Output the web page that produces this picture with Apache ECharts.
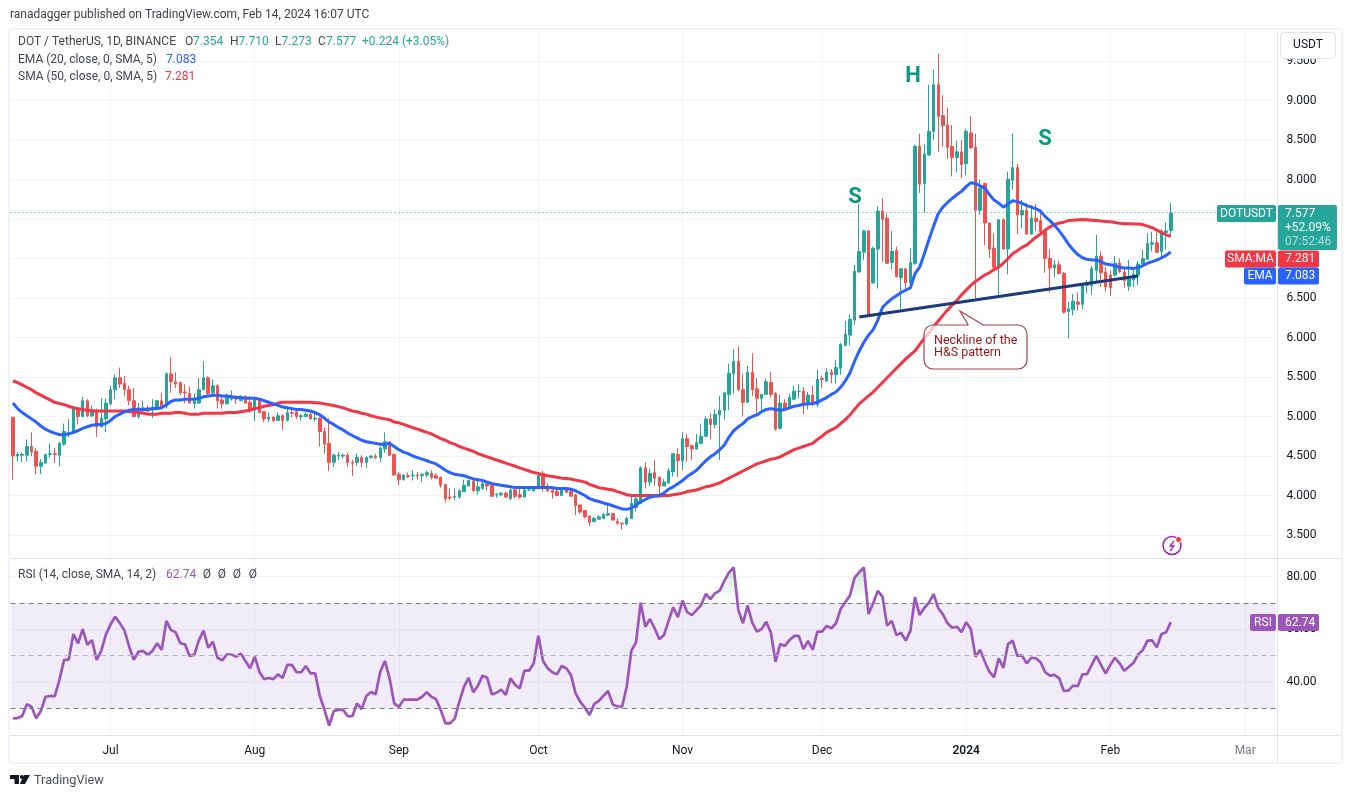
<!DOCTYPE html>
<html><head><meta charset="utf-8">
<style>html,body{margin:0;padding:0;background:#fff}#c{width:1351px;height:798px}</style>
<script src="https://cdn.jsdelivr.net/npm/echarts@6/dist/echarts.min.js"></script>
</head><body><div id="c"></div>
<script>
var FONT = 'Roboto, sans-serif';
var firstDay = Date.UTC(2023,5,10), totalDays = 272;
var monthTicks = {'2023-07-01':'Jul','2023-08-01':'Aug','2023-09-01':'Sep','2023-10-01':'Oct','2023-11-01':'Nov','2023-12-01':'Dec','2024-01-01':'2024','2024-02-01':'Feb','2024-03-01':'Mar'};
var priceTicks = [3.5,4,4.5,5,5.5,6,6.5,7,7.5,8,8.5,9,9.5];
var rsiTicks = [40,60,80];
// open, close, low, high
var candles = [
[4.99,4.50,4.20,4.99],[4.50,4.52,4.43,4.55],[4.51,4.52,4.42,4.55],[4.51,4.62,4.43,4.71],[4.62,4.55,4.50,4.80],[4.56,4.37,4.27,4.60],[4.37,4.42,4.27,4.46],[4.41,4.52,4.40,4.53],[4.52,4.53,4.48,4.66],[4.53,4.52,4.41,4.60],
[4.51,4.66,4.37,4.68],[4.65,4.81,4.63,4.91],[4.79,4.80,4.74,4.97],[4.81,5.10,4.78,5.14],[5.10,5.00,4.90,5.10],[5.00,5.20,4.99,5.25],[5.20,5.01,4.99,5.22],[5.01,5.09,4.99,5.14],[5.08,4.87,4.74,5.10],[4.87,4.98,4.86,5.23],
[4.97,5.17,4.80,5.23],[5.16,5.34,5.14,5.39],[5.34,5.49,5.22,5.53],[5.49,5.41,5.36,5.62],[5.42,5.34,5.26,5.51],[5.34,5.20,5.14,5.39],[5.20,5.00,4.99,5.36],[5.00,5.11,4.97,5.17],[5.07,5.11,5.06,5.20],[5.11,5.07,5.05,5.14],
[5.08,5.12,4.98,5.22],[5.09,5.20,5.09,5.21],[5.20,5.12,5.10,5.30],[5.13,5.54,5.10,5.56],[5.54,5.44,5.30,5.75],[5.44,5.41,5.36,5.56],[5.43,5.30,5.27,5.44],[5.31,5.30,5.17,5.41],[5.29,5.17,5.17,5.38],[5.16,5.20,5.10,5.29],
[5.17,5.34,5.16,5.49],[5.34,5.49,5.33,5.70],[5.49,5.29,5.26,5.51],[5.30,5.39,5.27,5.47],[5.39,5.20,5.10,5.41],[5.21,5.16,5.10,5.26],[5.16,5.25,5.15,5.29],[5.22,5.26,5.20,5.33],[5.25,5.22,5.16,5.27],[5.20,5.24,5.20,5.27],
[5.25,5.17,5.17,5.27],[5.18,5.08,5.05,5.26],[5.08,5.21,4.94,5.24],[5.21,5.05,5.04,5.22],[5.06,4.97,4.93,5.07],[4.97,4.99,4.93,5.05],[4.99,4.95,4.93,5.00],[4.95,5.01,4.95,5.05],[5.01,4.95,4.83,5.03],[4.95,5.05,4.94,5.10],
[5.05,5.04,4.99,5.12],[5.06,5.00,4.97,5.07],[5.00,5.01,4.95,5.03],[5.00,5.03,4.99,5.05],[5.03,4.97,4.96,5.05],[4.97,4.98,4.94,5.05],[4.98,4.81,4.62,4.99],[4.81,4.65,4.53,4.86],[4.66,4.42,4.31,4.98],[4.42,4.51,4.36,4.53],
[4.50,4.51,4.45,4.55],[4.50,4.51,4.47,4.53],[4.51,4.42,4.36,4.54],[4.42,4.41,4.25,4.45],[4.42,4.48,4.38,4.53],[4.48,4.42,4.36,4.51],[4.42,4.48,4.35,4.49],[4.48,4.50,4.47,4.51],[4.50,4.48,4.46,4.53],[4.48,4.60,4.42,4.62],
[4.59,4.68,4.54,4.80],[4.68,4.51,4.50,4.68],[4.52,4.26,4.25,4.53],[4.27,4.20,4.13,4.30],[4.20,4.26,4.19,4.27],[4.25,4.24,4.22,4.29],[4.25,4.26,4.19,4.32],[4.26,4.25,4.20,4.30],[4.25,4.27,4.17,4.28],[4.26,4.29,4.23,4.31],
[4.28,4.23,4.20,4.32],[4.25,4.22,4.22,4.28],[4.23,4.13,4.10,4.24],[4.14,3.96,3.91,4.14],[3.98,3.97,3.94,4.09],[3.98,3.99,3.94,4.09],[3.98,4.06,3.96,4.08],[4.05,4.13,4.05,4.20],[4.12,4.19,4.11,4.20],[4.18,4.06,4.05,4.20],
[4.06,4.11,4.01,4.21],[4.09,4.15,4.07,4.19],[4.15,4.12,4.06,4.16],[4.13,3.99,3.99,4.14],[4.01,4.02,3.97,4.03],[4.01,4.03,3.99,4.04],[4.03,3.98,3.97,4.05],[3.96,4.07,3.94,4.09],[4.07,3.99,3.96,4.09],[4.01,3.98,3.96,4.08],
[3.98,4.07,3.98,4.09],[4.07,4.07,4.06,4.11],[4.06,4.10,4.05,4.12],[4.09,4.26,4.08,4.28],[4.28,4.11,4.05,4.31],[4.12,4.06,4.05,4.15],[4.07,4.04,3.96,4.08],[4.05,4.00,3.99,4.09],[4.00,4.09,3.99,4.10],[4.09,4.04,4.03,4.11],
[4.05,3.99,3.99,4.09],[4.01,3.87,3.75,4.02],[3.88,3.79,3.77,3.89],[3.81,3.73,3.71,3.82],[3.74,3.66,3.61,3.75],[3.67,3.71,3.66,3.73],[3.70,3.73,3.69,3.75],[3.71,3.76,3.70,3.78],[3.75,3.77,3.74,3.90],[3.77,3.69,3.68,3.78],
[3.67,3.65,3.63,3.71],[3.65,3.64,3.57,3.65],[3.64,3.71,3.62,3.73],[3.71,3.90,3.70,3.98],[3.85,3.96,3.80,3.98],[3.90,4.35,3.89,4.37],[4.35,4.17,4.09,4.42],[4.17,4.28,4.12,4.34],[4.29,4.22,4.12,4.45],[4.23,4.12,4.00,4.24],
[4.12,4.17,4.12,4.21],[4.16,4.31,4.15,4.35],[4.30,4.53,4.24,4.53],[4.52,4.44,4.23,4.60],[4.44,4.72,4.32,4.80],[4.72,4.62,4.43,4.78],[4.63,4.59,4.45,4.65],[4.59,4.67,4.58,4.78],[4.66,4.75,4.65,4.91],[4.75,4.97,4.74,5.00],
[4.97,4.90,4.71,5.04],[4.90,5.03,4.85,5.09],[5.02,5.08,4.45,5.26],[5.08,5.30,4.96,5.31],[5.28,5.55,5.08,5.67],[5.54,5.70,5.29,5.85],[5.70,5.34,5.32,5.89],[5.34,5.18,5.00,5.53],[5.18,5.56,5.18,5.64],[5.56,5.34,5.26,5.80],
[5.35,5.23,5.04,5.49],[5.23,5.28,5.06,5.29],[5.28,5.44,5.27,5.48],[5.43,5.28,5.24,5.56],[5.29,4.84,4.82,5.31],[4.85,5.17,4.84,5.28],[5.17,5.10,5.08,5.22],[5.12,5.24,5.11,5.29],[5.22,5.32,5.21,5.39],[5.32,5.32,5.23,5.41],
[5.32,5.15,5.03,5.37],[5.15,5.27,5.09,5.31],[5.27,5.15,5.13,5.39],[5.15,5.47,5.12,5.59],[5.48,5.47,5.36,5.52],[5.45,5.56,5.44,5.61],[5.56,5.53,5.42,5.60],[5.53,5.62,5.42,5.72],[5.61,5.91,5.53,5.93],[5.90,6.04,5.89,6.21],
[6.03,6.23,5.90,6.29],[6.22,6.84,6.16,6.92],[6.83,7.09,6.82,7.69],[7.08,7.35,6.98,7.36],[7.35,6.29,6.28,7.36],[6.69,7.13,6.68,7.15],[7.12,7.60,6.62,7.66],[7.60,7.50,6.96,7.76],[7.51,6.94,6.93,7.57],[6.95,7.09,6.86,7.35],
[7.10,6.77,6.76,7.15],[6.76,6.87,6.36,6.88],[6.87,6.69,6.62,6.88],[6.69,6.95,6.61,7.13],[6.94,8.42,6.92,8.44],[8.42,7.94,7.83,8.58],[7.95,8.32,7.58,8.45],[8.31,8.61,8.30,9.20],[8.61,9.20,8.50,9.39],[9.20,8.80,8.35,9.59],
[8.81,8.68,8.41,9.07],[8.69,8.41,8.26,8.91],[8.42,8.28,8.04,8.69],[8.28,8.35,8.09,8.49],[8.35,8.19,8.02,8.50],[8.20,8.61,8.06,8.64],[8.59,8.40,8.39,8.80],[8.41,7.61,6.50,8.58],[7.61,7.89,7.55,8.00],[7.95,7.45,7.17,7.96],
[7.45,7.12,7.01,7.45],[7.13,6.89,6.87,7.32],[6.89,7.49,6.52,7.50],[7.49,7.12,7.11,7.51],[7.12,8.00,6.80,8.10],[7.99,8.15,7.87,8.58],[8.15,7.55,7.31,8.20],[7.55,7.61,7.38,7.74],[7.61,7.31,7.30,7.70],[7.31,7.51,7.30,7.68],
[7.51,7.47,7.35,7.69],[7.48,7.34,7.31,7.61],[7.35,7.00,6.82,7.36],[7.00,6.88,6.57,7.12],[6.88,6.92,6.76,6.98],[6.92,6.81,6.80,6.97],[6.81,6.32,6.30,6.83],[6.33,6.36,5.99,6.45],[6.35,6.46,6.28,6.55],[6.45,6.42,6.34,6.57],
[6.42,6.67,6.36,6.69],[6.66,6.67,6.56,6.73],[6.66,6.87,6.54,6.91],[6.85,7.03,6.69,7.30],[7.03,6.82,6.64,7.09],[6.83,6.64,6.58,6.89],[6.79,6.63,6.53,6.85],[6.79,6.94,6.77,7.03],[6.94,6.83,6.82,7.00],[6.83,6.72,6.63,6.89],
[6.65,6.74,6.59,6.98],[6.73,6.80,6.64,6.87],[6.79,6.93,6.66,6.97],[6.93,7.00,6.92,7.11],[6.99,7.19,6.99,7.32],[7.18,7.20,7.09,7.34],[7.20,7.08,7.07,7.33],[7.09,7.33,6.99,7.37],[7.33,7.35,7.11,7.46],[7.354,7.577,7.273,7.71]
];
var ema20 = [
5.17,5.10,5.05,5.01,4.97,4.93,4.88,4.84,4.81,4.79,4.77,4.77,4.78,4.80,4.82,4.85,4.87,4.89,4.90,4.90,
4.91,4.95,5.00,5.03,5.06,5.08,5.09,5.09,5.09,5.09,5.10,5.10,5.11,5.15,5.19,5.21,5.21,5.22,5.22,5.22,
5.23,5.25,5.26,5.27,5.27,5.26,5.26,5.25,5.24,5.24,5.23,5.23,5.23,5.22,5.20,5.18,5.16,5.14,5.12,5.11,
5.10,5.09,5.09,5.08,5.07,5.05,5.02,4.98,4.93,4.90,4.86,4.83,4.79,4.76,4.73,4.70,4.68,4.67,4.66,4.65,
4.65,4.66,4.62,4.58,4.55,4.53,4.50,4.48,4.46,4.44,4.42,4.40,4.36,4.32,4.29,4.27,4.26,4.25,4.23,4.21,
4.20,4.19,4.17,4.15,4.14,4.13,4.12,4.11,4.10,4.10,4.10,4.10,4.10,4.10,4.10,4.10,4.10,4.09,4.09,4.09,
4.08,4.06,4.03,4.00,3.96,3.94,3.925,3.905,3.89,3.87,3.85,3.83,3.825,3.84,3.88,3.92,3.95,3.98,3.99,4.00,
4.03,4.08,4.11,4.15,4.19,4.24,4.28,4.32,4.38,4.44,4.49,4.53,4.58,4.64,4.74,4.82,4.87,4.91,4.97,5.00,
5.02,5.06,5.09,5.10,5.09,5.08,5.09,5.11,5.13,5.14,5.155,5.16,5.165,5.18,5.21,5.24,5.28,5.31,5.37,5.45,
5.55,5.70,5.83,5.94,6.03,6.10,6.22,6.38,6.44,6.49,6.53,6.57,6.60,6.63,6.81,6.89,7.06,7.24,7.41,7.57,
7.65,7.71,7.76,7.81,7.85,7.91,7.96,7.95,7.92,7.89,7.81,7.74,7.70,7.65,7.69,7.73,7.72,7.70,7.67,7.65,
7.63,7.60,7.53,7.48,7.42,7.35,7.27,7.18,7.11,7.05,7.01,6.99,6.98,6.98,6.96,6.93,6.92,6.91,6.89,6.88,
6.88,6.875,6.885,6.91,6.94,6.96,6.98,7.01,7.04,7.083];
var sma50 = [
5.45,5.43,5.40,5.37,5.34,5.30,5.27,5.24,5.21,5.18,5.165,5.15,5.13,5.11,5.10,5.09,5.08,5.07,5.07,5.07,
5.07,5.07,5.07,5.07,5.07,5.06,5.06,5.05,5.04,5.03,5.03,5.03,5.04,5.04,5.04,5.05,5.05,5.04,5.03,5.03,
5.03,5.04,5.04,5.04,5.04,5.04,5.05,5.05,5.05,5.06,5.07,5.08,5.10,5.11,5.13,5.14,5.15,5.17,5.18,5.18,
5.18,5.18,5.18,5.18,5.18,5.175,5.17,5.16,5.15,5.14,5.125,5.11,5.09,5.07,5.06,5.04,5.03,5.01,4.995,4.98,
4.97,4.96,4.93,4.92,4.90,4.88,4.86,4.84,4.82,4.80,4.78,4.75,4.72,4.70,4.67,4.65,4.62,4.60,4.58,4.56,
4.53,4.51,4.49,4.47,4.45,4.43,4.41,4.39,4.37,4.35,4.33,4.31,4.29,4.28,4.26,4.25,4.24,4.23,4.22,4.215,
4.21,4.195,4.185,4.17,4.14,4.12,4.10,4.09,4.08,4.07,4.05,4.03,4.01,4.00,4.00,4.00,4.00,4.00,4.00,3.995,
4.00,4.00,4.01,4.02,4.03,4.05,4.06,4.07,4.09,4.11,4.12,4.14,4.16,4.19,4.22,4.25,4.28,4.31,4.34,4.37,
4.40,4.42,4.44,4.46,4.47,4.49,4.52,4.55,4.58,4.60,4.62,4.64,4.66,4.71,4.75,4.80,4.83,4.86,4.91,4.96,
5.02,5.09,5.16,5.21,5.26,5.31,5.37,5.43,5.49,5.55,5.61,5.67,5.73,5.78,5.83,5.91,5.99,6.06,6.14,6.21,
6.28,6.35,6.41,6.47,6.54,6.60,6.66,6.71,6.75,6.79,6.82,6.86,6.89,6.94,7.00,7.06,7.10,7.14,7.17,7.22,
7.27,7.31,7.36,7.40,7.43,7.45,7.46,7.48,7.485,7.49,7.495,7.49,7.485,7.48,7.475,7.47,7.465,7.455,7.445,7.44,
7.44,7.437,7.437,7.43,7.41,7.39,7.36,7.33,7.30,7.281];
var rsi = [
26.2,26.3,27.1,31.6,30.6,26.2,29.0,34.4,34.7,34.6,40.8,48.4,48.5,58.2,54.7,60.1,54.1,55.9,48.4,51.8,
58.1,61.9,64.8,62.3,59.5,53.4,48.4,51.5,51.8,50.3,51.8,54.7,52.2,63.2,59.7,58.9,54.7,54.3,49.9,50.3,
55.9,59.5,53.0,55.3,49.2,48.2,50.4,50.4,49.6,50.8,48.0,45.2,49.6,43.9,41.1,41.5,41.1,42.9,41.5,46.5,
46.5,43.7,43.7,46.1,43.3,43.3,34.7,29.4,23.4,29.0,29.4,29.5,27.0,27.0,31.9,29.7,34.7,36.2,35.3,43.9,
48.0,41.4,31.9,30.5,33.3,33.3,33.3,33.3,34.4,36.1,34.4,33.5,29.4,24.3,24.3,26.0,32.5,38.2,41.6,36.1,
38.6,42.4,41.6,35.3,35.9,37.1,35.1,41.4,38.9,37.6,44.3,44.3,47.1,57.6,48.0,45.2,43.7,42.9,46.1,45.2,
42.7,35.7,32.5,30.3,27.5,31.6,32.8,34.8,36.6,31.5,30.8,30.6,38.2,51.9,55.1,70.1,61.0,63.9,60.4,56.2,
57.8,63.2,68.4,64.6,70.9,66.5,65.4,67.3,69.2,73.4,71.5,73.7,74.7,78.4,81.6,83.5,67.3,62.3,69.0,62.5,
59.1,60.1,62.9,58.7,47.7,54.4,53.7,55.9,57.5,57.5,52.5,55.6,52.2,59.1,59.1,61.3,60.4,62.3,67.7,70.3,
72.8,79.6,81.6,83.5,65.8,69.9,74.6,72.4,61.4,63.2,57.8,58.7,55.7,59.4,72.2,65.4,68.2,70.1,73.4,68.0,
65.7,62.3,60.6,61.0,58.9,62.7,60.1,49.6,52.2,47.7,43.9,41.8,49.0,45.4,54.4,55.7,49.9,50.1,47.1,49.2,
49.0,47.5,43.7,42.4,42.7,41.4,36.6,36.7,38.6,38.4,42.9,43.0,46.5,49.9,46.5,43.3,46.5,49.2,47.1,44.3,
45.8,47.3,50.5,52.2,55.7,55.8,53.2,58.2,58.9,62.74];
var necklineFrom = [182,6.26], necklineTo = [242,6.78];
var lastClose = 7.577;

var dates = [];
for (var d = 0; d < totalDays; d++) dates.push(new Date(firstDay + d*86400000).toISOString().slice(0,10));
function isTick(i){ return monthTicks[dates[i]] !== undefined; }

var C = {green:'#26a69a', red:'#ef5350', ema:'#2962ff', sma:'#f23645', rsi:'#9c56bb', grid:'#f0f3fa', sep:'#e0e3eb', text:'#131722', legend:'#434651'};
var G = [];
function T(x,y,s,o){ o=o||{}; G.push({type:'text',z:o.z||20,style:{x:x,y:y+0.9,text:s,fill:o.fill||C.text,font:(o.weight||'normal')+' '+(o.size||12)+'px '+FONT,textAlign:o.align||'left',textVerticalAlign:'middle',opacity:o.opacity==null?1:o.opacity}}); }
function R(x,y,w,h,fill,r,stroke){ G.push({type:'rect',z:19,shape:{x:x,y:y,width:w,height:h,r:r||0},style:{fill:fill,stroke:stroke||null,lineWidth:1}}); }
function L(x1,y1,x2,y2,col,w){ G.push({type:'line',z:5,shape:{x1:x1,y1:y1,x2:x2,y2:y2},style:{stroke:col,lineWidth:w||1}}); }

// frame
L(9,29,1342,29,'#f0f3fa',2); L(9,29,9,763,'#f0f3fa',2); L(1342,29,1342,763,'#f0f3fa',2); L(9,763,1342,763,'#f0f3fa',2);
L(10,558.5,1341,558.5,C.sep); L(10,735.5,1341,735.5,C.sep); L(1277.5,30,1277.5,762,C.sep);
// header
T(10,14,'ranadagger published on TradingView.com, Feb 14, 2024 16:07 UTC',{fill:'#3c3f47'});
T(18,41.5,'DOT / TetherUS, 1D, BINANCE',{fill:C.legend});
[[185,'O','7.354',193],[230,'H','7.710',238.5],[275,'L','7.273',281.5],[318,'C','7.577',326]].forEach(function(a){T(a[0],41.5,a[1],{fill:C.legend});T(a[3],41.5,a[2],{fill:C.green});});
T(362,41.5,'+0.224 (+3.05%)',{fill:C.green});
T(18,59,'EMA (20, close, 0, SMA, 5)',{fill:C.legend}); T(166,59,'7.083',{fill:C.ema});
T(18,76,'SMA (50, close, 0, SMA, 5)',{fill:C.legend}); T(165,76,'7.281',{fill:C.sma});
T(18,574,'RSI (14, close, SMA, 14, 2)',{fill:C.legend}); T(166,574,'62.74',{fill:C.rsi});
[207,222,237,253].forEach(function(x){T(x,574,'\u00d8',{fill:C.legend,align:'center'});});
// pattern labels
T(855,197,'S',{fill:'#089981',size:22,weight:700,align:'center'});
T(913,76,'H',{fill:'#089981',size:22,weight:700,align:'center'});
T(1045,139,'S',{fill:'#089981',size:22,weight:700,align:'center'});
// callout
G.push({type:'rect',z:17,shape:{x:924,y:325,width:103,height:44,r:9},style:{fill:'rgba(255,255,255,0.72)',stroke:'#a3434a',lineWidth:1.2}});
G.push({type:'polygon',z:18,shape:{points:[[968,325.6],[983,325.6],[968,325.6]]},style:{fill:'#fff',stroke:'#fff',lineWidth:2}});
G.push({type:'polygon',z:18,shape:{points:[[968.3,326],[960,311],[983.3,326]]},style:{fill:'rgba(255,255,255,0.72)',stroke:null}});
G.push({type:'polyline',z:18,shape:{points:[[968.3,325],[960,311],[983.3,325]]},style:{fill:null,stroke:'#a3434a',lineWidth:1.2}});
T(934,339.5,'Neckline of the',{fill:'#991515',size:12.5}); T(934,352,'H&S pattern',{fill:'#991515',size:12.5});
// price scale tags
R(1280.5,32.5,55,26,'#fff',3,C.sep); T(1308,44.5,'USDT',{align:'center',size:12});
R(1217,205,59,17,C.green,2); T(1246.5,213,'DOTUSDT',{fill:'#fff',align:'center'});
R(1278,205,59,45,C.green,2); T(1285,213,'7.577',{fill:'#fff'}); T(1285,227,'+52.09%',{fill:'#fff'}); T(1285,241,'07:52:46',{fill:'#fff',opacity:0.65});
R(1225,250.5,51,17,C.sma,2); T(1250.5,258.2,'SMA:MA',{fill:'#fff',align:'center'});
R(1278,250.5,41,17,C.sma,2); T(1285,258.2,'7.281',{fill:'#fff'});
R(1244,267.5,32,17,C.ema,2); T(1260,275.2,'EMA',{fill:'#fff',align:'center'});
R(1278,267.5,41,17,C.ema,2); T(1285,275.2,'7.083',{fill:'#fff'});
R(1250,614,26,17,C.rsi,2); T(1263,621.8,'RSI',{fill:'#fff',align:'center'});
R(1278,614,41,17,C.rsi,2); T(1285,621.8,'62.74',{fill:'#fff'});
// event icon
G.push({type:'circle',z:18,shape:{cx:1172,cy:545.5,r:9},style:{fill:'#fff',stroke:'#9c27b0',lineWidth:1.5}});
G.push({type:'polyline',z:19,shape:{points:[[1174,541],[1170,546],[1174,546],[1170,551]]},style:{stroke:'#9c27b0',fill:null,lineWidth:1.3}});
G.push({type:'circle',z:20,shape:{cx:1178.5,cy:539.5,r:3},style:{fill:'#f23645',stroke:'#fff',lineWidth:1}});
// footer logo
G.push({type:'polygon',z:18,shape:{points:[[10,775],[19,775],[19,784],[14.5,784],[14.5,779],[10,779]]},style:{fill:'#131722'}});
G.push({type:'polygon',z:18,shape:{points:[[24,775],[30,775],[25,784],[19.8,784]]},style:{fill:'#131722'}});
G.push({type:'circle',z:18,shape:{cx:21.8,cy:777,r:2},style:{fill:'#131722'}});
T(34,779.5,'TradingView',{fill:'#4a4e58',size:12.7});

function xAxisBase(i,showLabels){ return {type:'category',gridIndex:i,data:dates,boundaryGap:true,axisLine:{show:false},axisTick:{show:false},
  splitLine:{show:true,alignWithLabel:true,interval:function(idx){return isTick(idx);},lineStyle:{color:C.grid,width:1}},
  axisLabel:{show:showLabels,interval:function(idx){return isTick(idx);},margin:9,
    formatter:function(v){var t=monthTicks[v]; return t==='2024'?'{b|2024}':t==='Mar'?'{m|Mar}':(t||'');},
    fontFamily:FONT,fontSize:12,color:C.text,rich:{b:{fontFamily:FONT,fontSize:12,fontWeight:600,color:C.text},m:{fontFamily:FONT,fontSize:12,color:'#787b86'}}}}; }
function lineS(name,data,color,w){ return {name:name,type:'line',xAxisIndex:0,yAxisIndex:0,data:data,symbol:'none',smooth:false,lineStyle:{color:color,width:w},itemStyle:{color:color},silent:true,z:3}; }
var gradGreen = new echarts.graphic.LinearGradient(0,0,0,1,[{offset:0,color:'rgba(76,175,80,0.4)'},{offset:1,color:'rgba(76,175,80,0)'}]);
var gradRed = new echarts.graphic.LinearGradient(0,0,0,1,[{offset:0,color:'rgba(255,82,82,0)'},{offset:1,color:'rgba(255,82,82,0.3)'}]);
var chart = echarts.init(document.getElementById('c'),null,{renderer:'canvas'});
chart.setOption({
  animation:false, backgroundColor:'#fff', textStyle:{fontFamily:FONT},
  grid:[{left:10.6,width:1264.8,top:31,height:527},{left:10.6,width:1264.8,top:559,height:177}],
  xAxis:[xAxisBase(0,false),xAxisBase(1,true)],
  yAxis:[
    {type:'value',gridIndex:0,position:'right',min:3.209,max:9.88,axisLine:{show:false},axisTick:{show:false,customValues:priceTicks},
     splitLine:{show:true,customValues:priceTicks,lineStyle:{color:C.grid}},
     axisLabel:{customValues:priceTicks,margin:11,padding:[2,0,0,0],color:C.text,fontFamily:FONT,fontSize:12,formatter:function(v){return v.toFixed(3);}}},
    {type:'value',gridIndex:1,position:'right',min:19.5,max:86.7,axisLine:{show:false},axisTick:{show:false,customValues:rsiTicks},
     splitLine:{show:true,customValues:rsiTicks,lineStyle:{color:C.grid}},
     axisLabel:{customValues:rsiTicks,margin:11,padding:[2,0,0,0],color:C.text,fontFamily:FONT,fontSize:12,formatter:function(v){return v.toFixed(2);}}}
  ],
  graphic:{elements:G},
  series:[
    {name:'DOTUSDT',type:'candlestick',xAxisIndex:0,yAxisIndex:0,data:candles,barWidth:3,large:false,progressive:0,
     itemStyle:{color:C.green,color0:C.red,borderColor:C.green,borderColor0:C.red,borderWidth:1},silent:true,z:2,
     markLine:{silent:true,symbol:'none',label:{show:false},data:[{yAxis:lastClose}],lineStyle:{color:C.green,type:[1,3],width:1}}},
    lineS('SMA 50',sma50,C.sma,3),
    lineS('EMA 20',ema20,C.ema,3),
    {name:'Neckline',type:'line',xAxisIndex:0,yAxisIndex:0,data:[necklineFrom,necklineTo],symbol:'none',lineStyle:{color:'#1c3a7a',width:3},silent:true,z:4},
    {name:'RSI high',type:'line',xAxisIndex:1,yAxisIndex:1,data:rsi.map(function(v){return Math.max(v,70);}),symbol:'none',lineStyle:{width:0},areaStyle:{origin:70,color:gradGreen},silent:true,z:2},
    {name:'RSI low',type:'line',xAxisIndex:1,yAxisIndex:1,data:rsi.map(function(v){return Math.min(v,30);}),symbol:'none',lineStyle:{width:0},areaStyle:{origin:30,color:gradRed},silent:true,z:2},
    {name:'RSI',type:'line',xAxisIndex:1,yAxisIndex:1,data:rsi,symbol:'none',smooth:false,lineStyle:{color:C.rsi,width:2.7},silent:true,z:3,
     markArea:{silent:true,itemStyle:{color:'rgba(126,87,194,0.11)'},data:[[{yAxis:70},{yAxis:30}]]},
     markLine:{silent:true,symbol:'none',label:{show:false},data:[
       {yAxis:70,lineStyle:{color:'#787b86',type:[5,4],width:1}},
       {yAxis:50,lineStyle:{color:'#b2b5be',type:[5,4],width:1}},
       {yAxis:30,lineStyle:{color:'#787b86',type:[5,4],width:1}}]}}
  ]
});
</script></body></html>
